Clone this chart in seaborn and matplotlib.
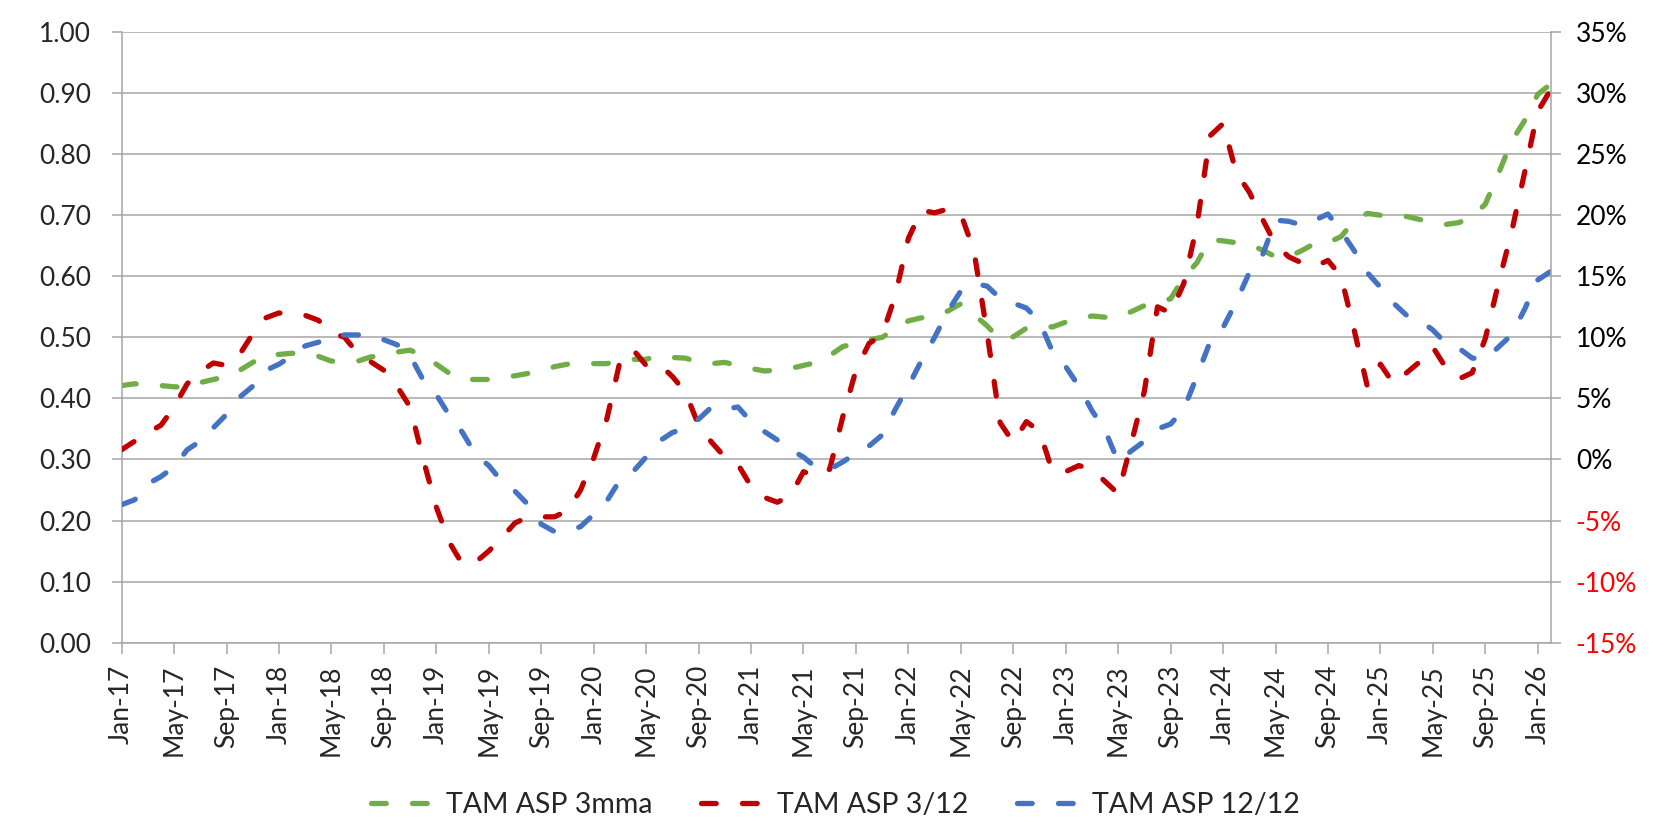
import numpy as np
import pandas as pd
import matplotlib
matplotlib.use("Agg")
import matplotlib.pyplot as plt
import seaborn as sns

# ---------------- data ----------------
months = pd.date_range("2017-01-01", "2026-02-01", freq="MS").strftime("%b-%y").tolist()

tick_labels = ["Jan-17", "May-17", "Sep-17", "Jan-18", "May-18", "Sep-18", "Jan-19",
               "May-19", "Sep-19", "Jan-20", "May-20", "Sep-20", "Jan-21", "May-21",
               "Sep-21", "Jan-22", "May-22", "Sep-22", "Jan-23", "May-23", "Sep-23",
               "Jan-24", "May-24", "Sep-24", "Jan-25", "May-25", "Sep-25", "Jan-26"]

# TAM ASP 3mma (left axis)
asp_3mma = [0.421, 0.424, 0.421, 0.421, 0.419, 0.418, 0.426, 0.431, 0.436, 0.446,
            0.459, 0.471, 0.472, 0.474, 0.470, 0.469, 0.461, 0.462, 0.461, 0.468,
            0.470, 0.476, 0.479, 0.470, 0.456, 0.441, 0.431, 0.431, 0.431, 0.435,
            0.437, 0.441, 0.444, 0.452, 0.456, 0.458, 0.457, 0.457, 0.462, 0.464,
            0.464, 0.470, 0.467, 0.466, 0.459, 0.457, 0.459, 0.454, 0.449, 0.445,
            0.446, 0.449, 0.454, 0.459, 0.470, 0.485, 0.490, 0.496, 0.500, 0.514,
            0.527, 0.532, 0.536, 0.543, 0.555, 0.537, 0.519, 0.496, 0.501, 0.515,
            0.519, 0.517, 0.525, 0.530, 0.535, 0.533, 0.533, 0.542, 0.552, 0.559,
            0.563, 0.598, 0.622, 0.660, 0.658, 0.655, 0.652, 0.643, 0.632, 0.632,
            0.642, 0.654, 0.655, 0.665, 0.691, 0.703, 0.700, 0.697, 0.698, 0.693,
            0.689, 0.685, 0.688, 0.698, 0.718, 0.768, 0.821, 0.855, 0.898, 0.915]

# TAM ASP 3/12 (right axis, %)
asp_3_12 = [0.8, 1.5, 2.2, 2.8, 4.3, 6.2, 7.2, 7.9, 7.7, 8.6,
            10.3, 11.6, 12.0, 11.8, 11.8, 11.4, 10.4, 10.0, 8.7, 8.0,
            7.3, 6.0, 4.3, 0.0, -3.9, -6.8, -8.6, -8.4, -7.5, -6.4,
            -5.2, -4.7, -4.7, -4.7, -4.2, -2.5, 0.1, 3.3, 8.0, 9.0,
            7.7, 7.8, 6.8, 5.5, 2.8, 1.4, 0.2, -0.4, -2.2, -3.1,
            -3.5, -3.0, -1.0, -1.4, -0.8, 3.5, 7.3, 9.5, 10.2, 13.4,
            18.1, 20.4, 20.2, 20.5, 20.1, 17.1, 10.4, 3.0, 1.4, 3.1,
            2.3, -1.0, -1.0, -0.5, -0.8, -1.8, -2.8, 1.3, 5.6, 12.5,
            12.0, 14.4, 19.1, 26.5, 27.5, 23.5, 21.9, 19.7, 17.6, 16.6,
            16.1, 15.8, 16.3, 15.0, 10.6, 6.0, 7.8, 6.2, 7.1, 8.0,
            9.2, 7.5, 6.6, 7.1, 9.9, 14.4, 18.6, 23.5, 28.5, 30.3]

# TAM ASP 12/12 (right axis, %)
asp_12_12 = [-3.7, -3.3, -2.0, -1.4, -0.6, 0.8, 1.5, 2.6, 3.7, 5.1,
             6.0, 7.3, 7.8, 8.5, 9.3, 9.6, 10.1, 10.2, 10.2, 10.2,
             9.8, 9.4, 8.5, 6.5, 5.3, 3.6, 2.2, 0.4, -0.5, -1.8,
             -2.6, -3.7, -5.3, -5.9, -5.9, -5.5, -4.5, -3.4, -1.7, -1.0,
             0.2, 1.5, 2.2, 2.6, 3.3, 4.3, 4.1, 4.3, 3.1, 2.3,
             1.6, 0.8, 0.2, -0.7, -0.8, -0.2, 0.5, 1.1, 2.0, 4.1,
             6.0, 8.1, 10.0, 12.1, 13.8, 14.4, 14.2, 13.2, 12.8, 12.4,
             11.3, 8.8, 7.6, 6.0, 4.0, 2.4, -0.2, 0.7, 1.5, 2.5,
             2.9, 4.1, 6.8, 9.6, 10.8, 12.9, 15.3, 16.7, 19.6, 19.5,
             19.2, 19.6, 20.1, 18.7, 17.1, 15.3, 14.1, 12.8, 11.8, 11.4,
             10.6, 9.5, 9.1, 8.3, 8.2, 9.2, 10.2, 12.3, 14.7, 15.4]

series_labels = ["TAM ASP 3mma", "TAM ASP 3/12", "TAM ASP 12/12"]

# ---------------- style ----------------
sns.set_style("white")
plt.rcParams["font.family"] = ["Lato", "DejaVu Sans"]
plt.rcParams["lines.scale_dashes"] = False

GREEN = "#70AD47"
RED = "#C00000"
BLUE = "#4472C4"
GRID = "#A6A6A6"
DASH = (0, (10.6, 18.9))
LW = 3.8

df = pd.DataFrame({
    "idx": np.arange(len(months)),
    "month": months,
    "g": asp_3mma,
    "r": asp_3_12,
    "b": asp_12_12,
})

fig = plt.figure(figsize=(16.71, 8.22), dpi=100)
ax = fig.add_axes([0.0728, 0.2182, 0.8553, 0.7428])
ax2 = ax.twinx()

sns.lineplot(data=df, x="idx", y="g", ax=ax, color=GREEN, linewidth=LW,
             label=series_labels[0], legend=False)
sns.lineplot(data=df, x="idx", y="r", ax=ax2, color=RED, linewidth=LW,
             label=series_labels[1], legend=False)
sns.lineplot(data=df, x="idx", y="b", ax=ax2, color=BLUE, linewidth=LW,
             label=series_labels[2], legend=False)

for a in (ax, ax2):
    for ln in a.lines:
        ln.set_linestyle(DASH)
        ln.set_dash_capstyle("round")
        ln.set_solid_capstyle("round")

# x axis
ax.set_xlim(0, len(months) - 1)
ax.set_xticks(np.arange(0, len(tick_labels) * 4, 4))
ax.set_xticklabels(tick_labels, rotation=90)
ax.tick_params(axis="x", length=8, width=1.1, color=GRID, pad=8, labelsize=19,
               direction="out", bottom=True)

# left axis
ax.set_ylim(0, 1)
ax.set_yticks(np.arange(0, 1.01, 0.1))
ax.set_yticklabels([f"{v:.2f}" for v in np.arange(0, 1.01, 0.1)])
ax.tick_params(axis="y", length=7, width=1.1, color=GRID, pad=15, labelsize=19,
               direction="out", left=True)
ax.yaxis.grid(True, color=GRID, linewidth=1.1)
ax.xaxis.grid(False)
ax.set_axisbelow(True)
ax.set_xlabel("")
ax.set_ylabel("")

# right axis
rticks = list(range(-15, 36, 5))
ax2.set_ylim(-15, 35)
ax2.set_yticks(rticks)
ax2.set_yticklabels([f"{v}%" for v in rticks])
ax2.tick_params(axis="y", length=7, width=1.1, color=GRID, pad=11, labelsize=19,
                direction="out", right=True)
for lab, v in zip(ax2.get_yticklabels(), rticks):
    lab.set_color("#FF0000" if v < 0 else "black")
ax2.set_ylabel("")
ax2.set_xlabel("")

for name, sp in ax.spines.items():
    sp.set_color(GRID)
    sp.set_linewidth(1.1)
ax.spines["top"].set_visible(False)
ax.spines["right"].set_visible(False)
for name, sp in ax2.spines.items():
    sp.set_visible(name == "right")
    sp.set_color(GRID)
    sp.set_linewidth(1.1)

# legend
handles = ax.lines[:1] + ax2.lines[:2]
fig.legend(handles, series_labels, loc="center", bbox_to_anchor=(0.5, 0.021),
           ncol=3, frameon=False, fontsize=20.5, handlelength=2.24,
           handletextpad=0.41, columnspacing=1.7)

fig.savefig("out.png", dpi=100, facecolor="white")
